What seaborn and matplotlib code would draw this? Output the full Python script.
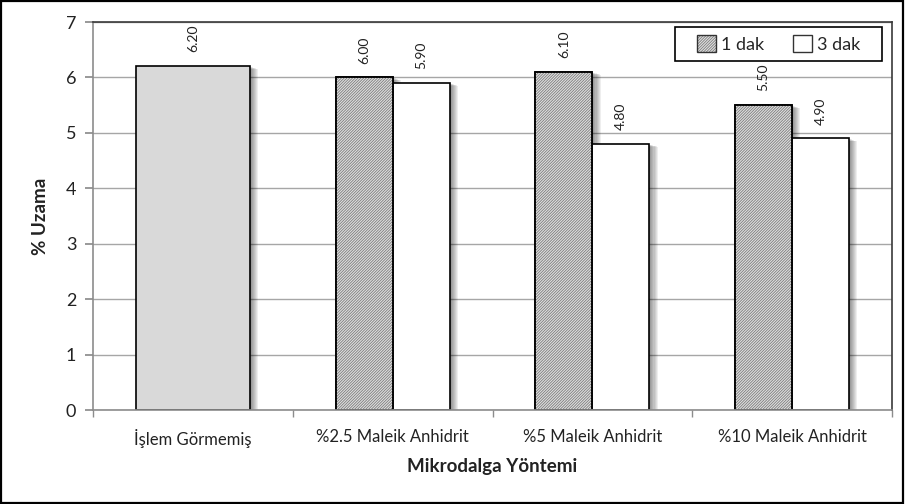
import numpy as np
import pandas as pd
import matplotlib
matplotlib.use("Agg")
import matplotlib.pyplot as plt
import matplotlib.patheffects as pe
from matplotlib.patches import Patch, Rectangle
from matplotlib.legend_handler import HandlerTuple
import seaborn as sns

# Data
categories = ["İşlem Görmemiş", "%2.5 Maleik Anhidrit", "%5 Maleik Anhidrit", "%10 Maleik Anhidrit"]
untreated_value = [6.20]
treated_groups = ["%2.5 Maleik Anhidrit", "%5 Maleik Anhidrit", "%10 Maleik Anhidrit"]
dak1_values = [6.00, 6.10, 5.50]
dak3_values = [5.90, 4.80, 4.90]
series = ["1 dak", "3 dak"]
y_ticks = [0, 1, 2, 3, 4, 5, 6, 7]

sns.set_theme(style="white")
plt.rcParams["font.family"] = ["Lato", "DejaVu Sans"]
plt.rcParams["hatch.linewidth"] = 0.6

HATCH_COLOR = "#7c7c7c"
HATCH_FACE = "#e0e0e0"

fig = plt.figure(figsize=(9.05, 5.04), dpi=100)
ax = fig.add_axes([0.1028, 0.1865, 0.8828, 0.7698])

# Soft drop shadow built from stacked faint offsets
shadow = [pe.SimplePatchShadow(offset=(0.75 * k, -0.25 * k), shadow_rgbFace="black", alpha=0.065)
          for k in range(8, 0, -1)] + [pe.Normal()]

# Untreated sample: single wide bar
base_df = pd.DataFrame({"grup": [categories[0]], "uzama": untreated_value})
sns.barplot(data=base_df, x="grup", y="uzama", order=categories, color="#d9d9d9",
            width=0.57, edgecolor="black", linewidth=1.2, saturation=1, ax=ax, errorbar=None)

# Treated samples: paired bars per microwave duration
rows = []
for g, v1, v3 in zip(treated_groups, dak1_values, dak3_values):
    rows.append({"grup": g, "sure": series[0], "uzama": v1})
    rows.append({"grup": g, "sure": series[1], "uzama": v3})
treated_df = pd.DataFrame(rows)
sns.barplot(data=treated_df, x="grup", y="uzama", hue="sure", order=categories,
            hue_order=series, palette={series[0]: HATCH_FACE, series[1]: "white"},
            width=0.57, edgecolor="black", linewidth=1.2, saturation=1, ax=ax,
            errorbar=None, legend=False)

hatch_pattern = "/" * 12
containers = list(ax.containers)
for i, cont in enumerate(containers):
    for bar in cont:
        bar.set_path_effects(shadow)
        if i == 1:
            # grey hatch layer inside the bar, then the black outline on top
            ax.add_patch(Rectangle((bar.get_x(), bar.get_y()), bar.get_width(), bar.get_height(),
                                   facecolor="none", edgecolor=HATCH_COLOR, linewidth=0,
                                   hatch=hatch_pattern, zorder=bar.get_zorder() + 0.1))
            ax.add_patch(Rectangle((bar.get_x(), bar.get_y()), bar.get_width(), bar.get_height(),
                                   facecolor="none", edgecolor="black", linewidth=1.2,
                                   zorder=bar.get_zorder() + 0.2))
    ax.bar_label(cont, fmt="%.2f", rotation=90, padding=10, fontsize=10, color="#222222")

# Axes styling
ax.set_ylim(0, 7)
ax.set_xlim(-0.5, 3.5)
ax.set_yticks(y_ticks)
ax.yaxis.grid(True, color="#a6a6a6", linewidth=1)
ax.set_axisbelow(True)
ax.tick_params(axis="y", which="major", left=True, length=6, color="#8c8c8c",
               labelsize=13, labelcolor="#222222", pad=6)
ax.set_xticks(range(len(categories)))
ax.set_xticklabels(categories)
ax.set_xticks(np.arange(-0.5, len(categories), 1.0), minor=True)
ax.tick_params(axis="x", which="major", bottom=False, labelsize=12, labelcolor="#222222", pad=8)
ax.tick_params(axis="x", which="minor", bottom=True, length=5, color="#8c8c8c")
for side in ["left", "bottom"]:
    ax.spines[side].set_color("#8c8c8c")
    ax.spines[side].set_linewidth(1.2)
for side in ["top", "right"]:
    ax.spines[side].set_color("#3a3a3a")
    ax.spines[side].set_linewidth(1.2)

ax.set_xlabel("Mikrodalga Yöntemi", fontsize=13.5, fontweight="bold", color="#222222", labelpad=7)
ax.set_ylabel("% Uzama", fontsize=13.5, fontweight="bold", color="#222222", labelpad=12)

# Legend: framed box with the two entries centred inside
box_x0, box_x1, box_y0, box_y1 = 0.7284, 0.9875, 0.8995, 0.9871
ax.add_patch(Rectangle((box_x0, box_y0), box_x1 - box_x0, box_y1 - box_y0, transform=ax.transAxes,
                       facecolor="white", edgecolor="black", linewidth=1.2, zorder=5))
h1 = (Patch(facecolor=HATCH_FACE, edgecolor=HATCH_COLOR, linewidth=0, hatch=hatch_pattern),
      Patch(facecolor="none", edgecolor="#333333", linewidth=1.0))
h2 = Patch(facecolor="white", edgecolor="#333333", linewidth=1.0)
leg = ax.legend(handles=[h1, h2], labels=series, loc="center", ncol=2, fontsize=13, frameon=False,
                handler_map={tuple: HandlerTuple(ndivide=1, pad=0)},
                handlelength=1.05, handleheight=1.05, handletextpad=0.28, columnspacing=1.6,
                borderpad=0, borderaxespad=0,
                bbox_to_anchor=((box_x0 + box_x1) / 2, (box_y0 + box_y1) / 2))
leg.set_zorder(6)

# Outer chart frame
fig.patches.append(Rectangle((0.001, 0.002), 0.997, 0.996, transform=fig.transFigure,
                             fill=False, edgecolor="black", linewidth=1.6))

fig.savefig("out.png", dpi=100)
